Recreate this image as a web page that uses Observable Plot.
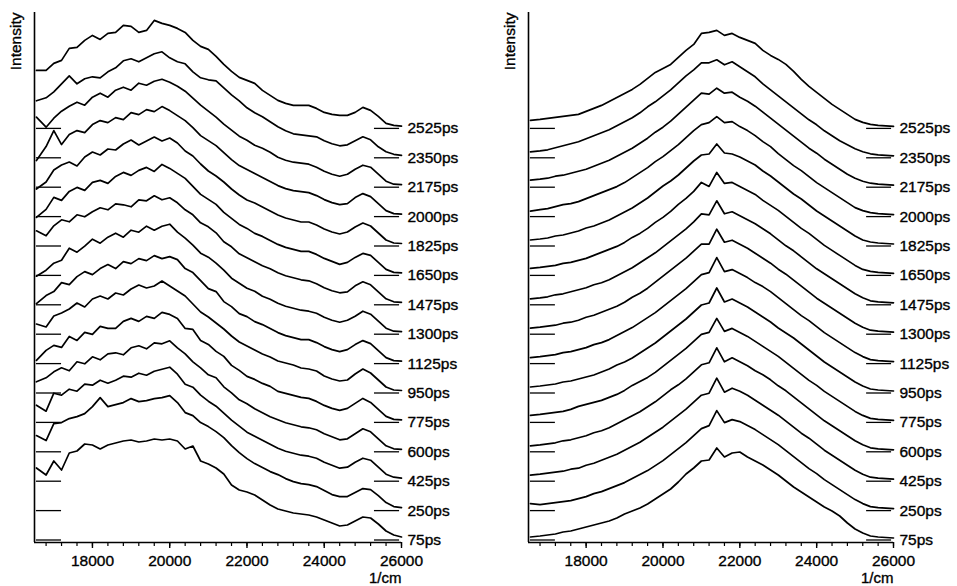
<!DOCTYPE html>
<html><head><meta charset="utf-8">
<script src="https://cdn.jsdelivr.net/npm/d3@7"></script>
<script src="https://cdn.jsdelivr.net/npm/@observablehq/plot@0.6"></script>
<style>
body{margin:0;background:#fff;}
#wrap{display:flex;width:957px;height:586px;overflow:hidden;}
#wrap svg text{stroke:#000;stroke-width:0.35px;paint-order:stroke;}
</style>
</head><body><div id="wrap"></div>
<script>
// delay times (ps), bottom to top
const times = [75,250,425,600,775,950,1125,1300,1475,1650,1825,2000,2175,2350,2525];
// wavenumber grid (1/cm)
const wavenumbers = [16550,16800,17000,17200,17400,17600,17800,18000,18200,18400,18600,18800,19000,19200,19400,19600,19800,20000,20200,20400,20600,20800,21000,21200,21400,21600,21800,22000,22200,22400,22600,22800,23000,23200,23400,23600,23800,24000,24200,24400,24600,24800,25000,25200,25400,25600,25800,26000];
const xTicks = [18000,20000,22000,24000,26000];
const minorTicks = [16800,17200,17600,18000,18400,18800,19200,19600,20000,20400,20800,21200,21600,22000,22400,22800,23200,23600,24000,24400,24800,25200,25600,26000];

// Left panel spectra: intensity above each trace's own baseline
const L75   = [72,65,79,70,87,89,96,95, 91,95,97,99,100,98,99,101, 100,101,99,91,94,79,76,72, 66,55,50,48,45,40,35,31, 29,27,26,25,23,20,17,14, 15,19,23,22,16,9,5,3];
const L250  = [75,70,87,88,92,94,97,104, 113,104,106,108,112,109,110,112, 113,115,108,98,95,88,84,79, 73,65,58,52,47,43,39,36, 32,29,27,26,24,20,16,14, 14,18,22,21,15,8,4,3];
const L425  = [76,70,88,86,92,90,97,96, 101,98,101,105,104,108,106,110, 112,114,107,97,94,86,80,75, 68,61,55,49,45,41,37,33, 30,28,26,25,23,19,16,13, 14,19,23,21,14,7,4,3];
const L600  = [70,74,80,84,81,90,88,95, 92,98,99,97,104,106,103,109, 108,111,104,98,90,84,77,74, 65,59,52,48,43,39,35,32, 29,27,25,24,22,18,15,12, 13,18,23,20,13,6,3,2.5];
const L775  = [62,72,77,75,86,82,90,88, 96,94,94,101,104,101,106,104, 110,108,104,94,93,82,78,71, 66,57,52,46,43,39,36,31, 29,27,25,24,21,17,14,12, 14,19,24,20,13,6,3,2.5];
const L950  = [69,66,77,80,84,90,86,94, 97,94,100,98,104,108,105,107, 112,107,102,97,89,81,76,70, 64,57,51,47,43,39,36,32, 30,28,25,24,22,17,14,12, 13,19,24,20,13,6,3,2.5];
const L1125 = [60,68,72,81,79,87,92,89, 95,99,95,102,100,105,103,108, 105,107,104,95,91,83,75,72, 62,57,50,47,42,39,35,31, 28,26,24,24,21,17,14,12, 14,19,23,20,13,6,3,2.5];
const L1300 = [58,64,71,74,86,82,88,95, 91,97,101,97,104,102,108,104, 108,110,102,96,89,81,77,71, 64,56,51,46,43,38,35,31, 28,26,24,23,21,17,14,12, 14,18,23,20,13,6,3,2.5];
const L1475 = [74,69,79,85,83,90,88,93, 97,95,101,100,98,105,104,109, 105,107,102,95,90,82,78,72, 63,58,51,47,43,39,36,32, 29,27,25,24,21,17,14,12, 13,19,23,20,13,6,3,2.5];
const L1650 = [58,66,78,75,84,88,85,93, 95,92,99,103,100,105,108,104, 111,107,102,97,89,81,76,71, 63,57,51,47,42,39,35,31, 28,26,24,24,21,17,14,11, 13,18,22,20,13,6,3,2.5];
const L1825 = [57,64,76,81,84,80,89,94, 91,97,96,102,106,101,105,109, 105,108,103,95,90,82,75,70, 64,57,51,46,43,39,35,31, 28,26,24,24,21,17,14,12, 14,19,23,20,13,6,3,2.5];
const L2000 = [56,70,86,72,82,86,84,92, 96,94,99,97,104,102,107,105, 110,106,101,96,89,81,76,71, 64,57,51,47,43,39,35,31, 28,26,25,24,21,17,14,12, 13,19,23,20,13,6,3,2.5];
const L2175 = [70,60,69,76,81,85,82,90, 94,90,97,100,97,104,102,106, 108,105,101,96,89,82,76,70, 63,57,51,47,42,39,35,30, 27,25,24,23,20,16,13,11, 13,18,22,20,13,6,3,2.5];
const L2350 = [57,60,66,74,82,74,79,81, 80,86,90,97,99,96,100,104, 106,100,96,94,86,80,78,77, 70,63,57,50,45,41,36,31, 27,24,23,22,21,17,14,12, 13,17,21,18,11,6,3.5,2.5];
const L2525 = [58,58,65,68,80,81,88,93, 89,95,96,103,102,96,98,108, 105,103,100,96,88,82,79,72, 64,57,51,48,45,38,33,28, 25,23,23,23,20,16,14,13, 13,16,21,18,12,5,3,2.3];

// Right panel spectra
const R75   = [3,4,5,6,8,9,11,13, 15,17,19,22,26,29,32,36, 41,46,51,58,66,72,79,80, 92,83,87,88,83,79,75,70, 65,59,53,48,43,38,33,29, 24,17,11,7,4,3,2.5,2];
const R250  = [7,6,7,8,9,10,12,14, 17,19,22,25,28,32,36,40, 45,50,56,62,68,75,82,85, 100,88,91,89,85,81,76,71, 66,60,54,48,42,37,31,26, 21,16,11,7,4,3,2.5,2];
const R425  = [6,7,8,9,10,12,13,16, 18,21,24,27,31,35,39,44, 49,54,60,66,72,79,86,88, 103,89,93,90,86,81,76,71, 66,60,54,48,43,37,31,26, 21,16,11,7,4,3,2.5,2];
const R600  = [6,7,8,9,11,12,14,16, 19,21,24,28,32,36,40,45, 50,56,62,67,73,80,87,89, 104,90,94,90,86,81,77,72, 66,61,55,49,43,37,31,26, 21,16,11,7,4,3,2.5,2];
const R775  = [7,8,9,10,11,13,16,18, 20,22,25,28,32,37,41,45, 50,56,62,68,74,81,88,90, 104,91,94,90,86,81,76,71, 66,60,54,48,42,37,31,26, 21,16,11,7,4,3,2.5,2];
const R950  = [6,7,8,9,11,12,14,16, 18,21,24,28,31,35,40,45, 50,56,62,68,74,81,88,90, 105,91,94,90,86,81,76,71, 65,60,55,49,43,37,31,26, 21,16,11,7,4,3,2.5,2];
const R1125 = [6,7,8,9,11,12,14,16, 19,21,24,28,32,36,41,46, 51,57,63,69,75,82,89,91, 106,92,94,90,86,81,77,72, 66,60,54,48,43,37,31,26, 21,16,11,7,4,3,2.5,2];
const R1300 = [6,7,8,9,11,12,14,17, 19,22,25,28,32,37,41,46, 52,58,64,70,76,83,90,90, 105,92,94,90,86,81,76,71, 65,60,54,48,42,36,31,26, 21,16,11,7,4,3,2.5,2];
const R1475 = [6,7,8,10,11,13,15,17, 20,22,25,29,33,37,42,47, 52,58,64,70,76,83,91,90, 104,91,93,89,85,81,76,71, 65,59,54,48,42,36,31,26, 21,16,11,7,4,3,2.5,2];
const R1650 = [7,8,9,10,12,13,15,17, 20,23,26,29,33,38,42,47, 53,58,64,71,77,84,93,89, 103,92,93,89,85,81,75,70, 65,59,53,47,42,36,30,25, 20,15,10,6,4,3,2.5,2];
const R1825 = [6,7,8,10,11,13,15,18, 20,23,26,30,34,38,43,48, 54,60,65,71,78,85,91,92, 102,93,92,89,85,81,75,70, 64,58,52,47,41,35,30,25, 20,15,10,6,4,3,2.5,2];
const R2000 = [5.5,7,8,10,12,13,15,18, 21,24,27,30,34,39,44,49, 55,60,66,72,79,86,92,94, 100,94,95,90,86,81,75,70, 63,57,51,46,40,34,29,24, 19,14,9,6,4,3,2.5,2];
const R2175 = [7,8,9,11,12,14,16,18, 21,24,27,31,35,39,44,49, 55,60,66,73,80,87,94,93, 99,94,95,90,86,81,75,69, 63,57,51,45,39,34,28,23, 18,13,9,6,4,3,2.5,2];
const R2350 = [6,7,8,10,12,14,16,19, 22,25,28,32,36,40,45,51, 56,62,68,75,82,88,95,95, 98,93,96,91,86,81,74,68, 62,56,50,44,38,33,27,22, 17,13,9,6,4,3,2.5,2];
const R2525 = [8,9,10,11,12,13,14,17, 20,23,27,31,35,39,44,50, 56,60,64,71,78,84,95,96, 98,93,95,91,88,85,78,73, 69,64,57,49,42,36,30,24, 19,14,9,6,4,3,2.5,2];

const leftSpectra  = [L75,L250,L425,L600,L775,L950,L1125,L1300,L1475,L1650,L1825,L2000,L2175,L2350,L2525];
const rightSpectra = [R75,R250,R425,R600,R775,R950,R1125,R1300,R1475,R1650,R1825,R2000,R2175,R2350,R2525];

const step = 29.4;           // vertical offset between successive traces
const FONT = "'Liberation Sans', Arial, Helvetica, sans-serif";
const FS = 15.5;

function panel(spectra, width, marginLeft, marginRight) {
  const rows = [];
  spectra.forEach((h, k) => h.forEach((v, i) => rows.push({time: times[k], w: wavenumbers[i], y: k * step + v})));
  const base = times.map((t, k) => ({time: t, y: k * step}));
  return Plot.plot({
    width, height: 586,
    marginLeft, marginRight, marginTop: 12, marginBottom: 44,
    x: {domain: [16500, 26000]},
    y: {domain: [-2.5, 527.5], axis: null},
    style: {fontFamily: FONT, fontSize: FS + "px", background: "white", color: "#000", overflow: "visible"},
    marks: [
      Plot.ruleX([16500], {stroke: "#000", strokeWidth: 1.6}),
      Plot.ruleY([-2.5], {stroke: "#000", strokeWidth: 1.6}),
      Plot.axisX({ticks: minorTicks, tickSize: 4, tickFormat: () => "", label: null, stroke: "#000", strokeWidth: 1.2}),
      Plot.axisX({ticks: xTicks, tickSize: 6, tickPadding: 6, tickFormat: d => String(d), label: null, fontSize: FS, fill: "#000", stroke: "#000", strokeWidth: 1.4}),
      Plot.ruleY(base, {y: "y", x1: () => 16550, x2: () => 17200, stroke: "#000", strokeWidth: 1.3}),
      Plot.ruleY(base, {y: "y", x1: () => 25300, x2: () => 25950, stroke: "#000", strokeWidth: 1.3}),
      Plot.line(rows, {x: "w", y: "y", z: "time", stroke: "#000", strokeWidth: 1.7, curve: "linear"}),
      Plot.text(base, {x: () => 26000, y: "y", text: d => d.time + "ps", dx: 6, textAnchor: "start", fontSize: FS, fill: "#000"}),
      Plot.text(["1/cm"], {frameAnchor: "bottom-right", dy: 40, textAnchor: "end", lineAnchor: "bottom", fontSize: 15, fill: "#000"}),
      Plot.text(["Intensity"], {frameAnchor: "top-left", rotate: -90, textAnchor: "end", lineAnchor: "middle", dx: -18, fontSize: FS, fill: "#000"})
    ]
  });
}

const wrap = document.getElementById("wrap");
wrap.append(panel(leftSpectra, 478, 34, 77));
wrap.append(panel(rightSpectra, 479, 50, 64));
</script>
</body></html>
